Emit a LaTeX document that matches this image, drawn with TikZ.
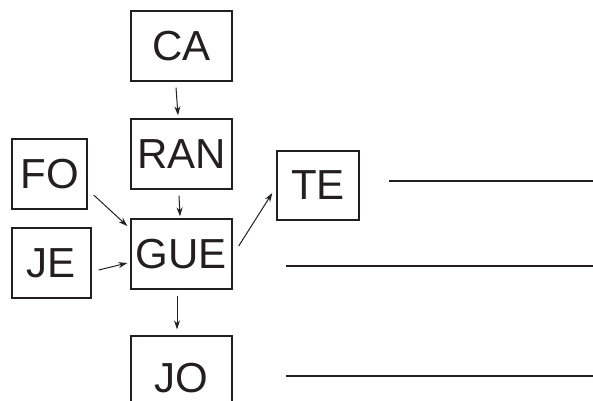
\documentclass[tikz,border=0pt]{standalone}
\usepackage{fontspec}
\setmainfont{Liberation Sans}
\usetikzlibrary{arrows.meta,calc}
\definecolor{ink}{HTML}{231F20}
\begin{document}
\begin{tikzpicture}[x=1pt,y=-1pt,
  box/.style={draw=ink,line width=1.4pt,inner sep=0pt,text=ink,font=\fontsize{42}{42}\selectfont},
  arr/.style={draw=ink,line width=1pt,-{Stealth[length=9pt,width=6pt]}},
  rule/.style={draw=ink,line width=1.2pt}]
\useasboundingbox (0,0) rectangle (593,400);
\node[box,minimum width=101pt,minimum height=70pt] (CA) at (181.5,46) {CA};
\node[box,minimum width=101pt,minimum height=70pt] (RAN) at (181.5,154) {RAN};
\node[box,minimum width=75pt,minimum height=70pt] (FO) at (49.5,174) {FO};
\node[box,minimum width=79pt,minimum height=70pt] (JE) at (51.5,263) {JE};
\node[box,minimum width=101pt,minimum height=70pt] (GUE) at (181.5,254) {GUE};
\node[box,minimum width=101pt,minimum height=84pt] (JO) at (181.5,378) {JO};
\node[box,minimum width=82pt,minimum height=69pt] (TE) at (318,185.5) {TE};
\draw[arr] ($(CA.south)+(-5.5,6)$) -- ($(RAN.north)+(-3.5,-3)$);
\draw[arr] ($(RAN.south)+(-2.5,6)$) -- ($(GUE.north)+(-1.5,-2)$);
\draw[arr] ($(FO.east)+(6,21)$) -- ($(GUE.west)+(-3,-28)$);
\draw[arr] ($(JE.east)+(7,7)$) -- ($(GUE.west)+(-3,9)$);
\draw[arr] ($(GUE.east)+(6,-8)$) -- ($(TE.west)+(-4,7.5)$);
\draw[arr] ($(GUE.south)+(-4.5,6)$) -- ($(JO.north)+(-4.5,-6)$);
\coordinate (l1a) at (389,181); \coordinate (l1b) at (593,181);
\coordinate (l2a) at (286,266); \coordinate (l2b) at (593,266);
\coordinate (l3a) at (286,376); \coordinate (l3b) at (593,376);
\draw[rule] (l1a) -- (l1b);
\draw[rule] (l2a) -- (l2b);
\draw[rule] (l3a) -- (l3b);
\end{tikzpicture}
\end{document}
